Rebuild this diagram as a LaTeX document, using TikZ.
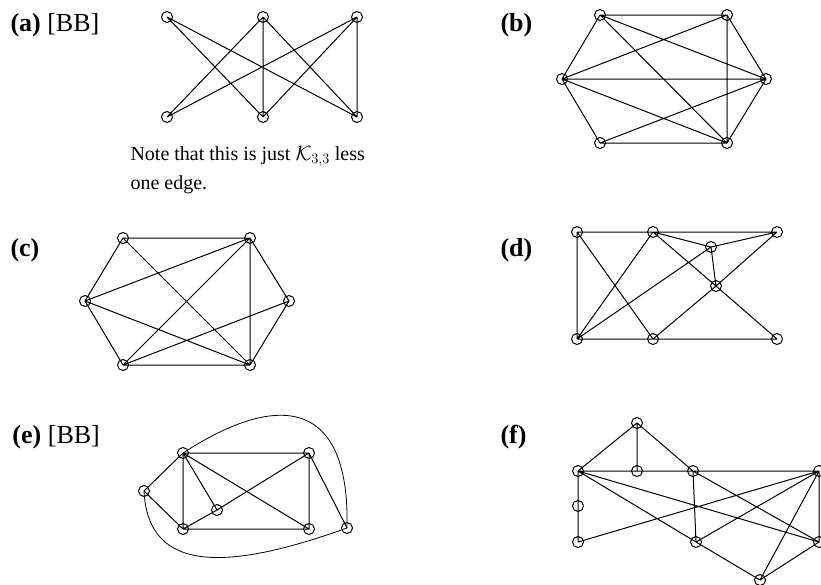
\documentclass[tikz,border=0pt]{standalone}
\usepackage{amsmath}
\usepackage{fontspec}
\setmainfont{Liberation Serif}
\usepackage{tikz}

\tikzset{
  vtx/.style={draw, circle, minimum size=11pt, inner sep=0pt},
  lbl/.style={anchor=west, inner sep=0pt, font=\fontsize{26}{30}\selectfont},
  note/.style={anchor=base west, inner sep=0pt, font=\fontsize{20}{27}\selectfont},
}

\begin{document}
\begin{tikzpicture}[x=1pt, y=-1pt, line width=1pt]
    \useasboundingbox (0,0) rectangle (821,584);

    % (a)
    \node[lbl] at (10,25) (la) {\textbf{(a)} [BB]};
    \node[vtx] at (167,17) (a1) {};
    \node[vtx] at (263,17) (a2) {};
    \node[vtx] at (357,17) (a3) {};
    \node[vtx] at (167,117) (a4) {};
    \node[vtx] at (263,117) (a5) {};
    \node[vtx] at (357,117) (a6) {};
    \draw (a1.center) -- (a5.center) (a1.center) -- (a6.center)
          (a2.center) -- (a4.center) (a2.center) -- (a5.center) (a2.center) -- (a6.center)
          (a3.center) -- (a4.center) (a3.center) -- (a5.center) (a3.center) -- (a6.center);
    \node[note] at (130,160) (na) {Note that this is just $\mathcal{K}_{3,3}$ less};
    \node[note] at (130,189) (nb) {one edge.};

    % (b)
    \node[lbl] at (500,25) (lb) {\textbf{(b)}};
    \node[vtx] at (600,15) (b1) {};
    \node[vtx] at (727,15) (b2) {};
    \node[vtx] at (562,79) (b3) {};
    \node[vtx] at (766,79) (b4) {};
    \node[vtx] at (600,143) (b5) {};
    \node[vtx] at (727,143) (b6) {};
    \draw (b1.center) -- (b2.center) (b1.center) -- (b3.center) (b1.center) -- (b4.center)
          (b1.center) -- (b6.center) (b2.center) -- (b3.center) (b2.center) -- (b4.center)
          (b2.center) -- (b6.center) (b3.center) -- (b4.center) (b3.center) -- (b5.center)
          (b3.center) -- (b6.center) (b5.center) -- (b6.center) (b5.center) -- (b4.center)
          (b6.center) -- (b4.center);

    % (c)
    \node[lbl] at (10,250) (lc) {\textbf{(c)}};
    \node[vtx] at (123,238) (c1) {};
    \node[vtx] at (250,238) (c2) {};
    \node[vtx] at (85,301) (c3) {};
    \node[vtx] at (289,301) (c4) {};
    \node[vtx] at (123,365) (c5) {};
    \node[vtx] at (250,365) (c6) {};
    \draw (c1.center) -- (c2.center) (c1.center) -- (c3.center) (c1.center) -- (c6.center)
          (c2.center) -- (c3.center) (c2.center) -- (c5.center) (c2.center) -- (c6.center)
          (c2.center) -- (c4.center) (c3.center) -- (c5.center) (c3.center) -- (c6.center)
          (c5.center) -- (c6.center) (c5.center) -- (c4.center) (c6.center) -- (c4.center);

    % (d)
    \node[lbl] at (500,250) (ld) {\textbf{(d)}};
    \node[vtx] at (577,232) (d1) {};
    \node[vtx] at (653,232) (d2) {};
    \node[vtx] at (777,232) (d3) {};
    \node[vtx] at (711,247) (d4) {};
    \node[vtx] at (716,286) (d5) {};
    \node[vtx] at (577,339) (d6) {};
    \node[vtx] at (653,339) (d7) {};
    \node[vtx] at (777,339) (d8) {};
    \draw (d1.center) -- (d2.center) (d2.center) -- (d3.center) (d1.center) -- (d6.center)
          (d1.center) -- (d7.center) (d2.center) -- (d6.center) (d2.center) -- (d4.center)
          (d4.center) -- (d3.center) (d4.center) -- (d5.center) (d4.center) -- (d6.center)
          (d2.center) -- (d5.center) (d5.center) -- (d8.center) (d3.center) -- (d5.center)
          (d5.center) -- (d7.center) (d6.center) -- (d7.center) (d7.center) -- (d8.center);

    % (e)
    \node[lbl] at (12,437) (le) {\textbf{(e)} [BB]};
    \node[vtx] at (183,453) (e1) {};
    \node[vtx] at (309,453) (e2) {};
    \node[vtx] at (144,491) (e3) {};
    \node[vtx] at (217,510) (e4) {};
    \node[vtx] at (183,529) (e5) {};
    \node[vtx] at (309,529) (e6) {};
    \node[vtx] at (347,528) (e7) {};
    \draw (e1.center) -- (e2.center) (e1.center) -- (e5.center) (e1.center) -- (e3.center)
          (e1.center) -- (e4.center) (e1.center) -- (e6.center) (e2.center) -- (e6.center)
          (e2.center) -- (e4.center) (e4.center) -- (e5.center) (e3.center) -- (e5.center)
          (e5.center) -- (e6.center) (e2.center) -- (e7.center);
    % outer edges
    \draw[line width=0.8pt] (e1.center) .. controls (280,390) and (350,400) .. (e7.center);
    \draw[line width=0.8pt] (e3.center) .. controls (148,575) and (230,570) .. (e7.center);

    % (f)
    \node[lbl] at (500,437) (lf) {\textbf{(f)}};
    \node[vtx] at (637,423) (f1) {};
    \node[vtx] at (578,471) (f2) {};
    \node[vtx] at (637,471) (f3) {};
    \node[vtx] at (693,471) (f4) {};
    \node[vtx] at (819,471) (f5) {};
    \node[vtx] at (578,506) (f6) {};
    \node[vtx] at (578,542) (f7) {};
    \node[vtx] at (696,542) (f8) {};
    \node[vtx] at (819,542) (f9) {};
    \node[vtx] at (760,580) (f10) {};
    \draw (f1.center) -- (f2.center) (f1.center) -- (f3.center) (f1.center) -- (f4.center)
          (f2.center) -- (f3.center) (f3.center) -- (f4.center) (f4.center) -- (f5.center)
          (f2.center) -- (f6.center) (f6.center) -- (f7.center) (f2.center) -- (f8.center)
          (f2.center) -- (f9.center) (f4.center) -- (f8.center) (f4.center) -- (f9.center)
          (f5.center) -- (f7.center) (f5.center) -- (f8.center) (f5.center) -- (f10.center)
          (f5.center) -- (f9.center) (f8.center) -- (f10.center) (f9.center) -- (f10.center);
\end{tikzpicture}
\end{document}
